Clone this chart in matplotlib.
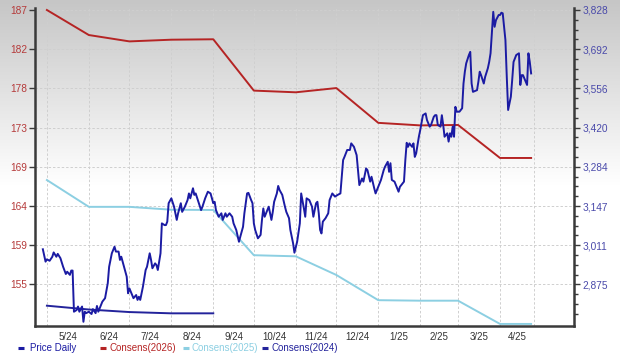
import numpy as np
import pandas as pd
import matplotlib
matplotlib.use('Agg')
import matplotlib.pyplot as plt
import matplotlib.dates as mdates
from matplotlib.ticker import FixedLocator, FuncFormatter, NullLocator
from matplotlib.lines import Line2D
from matplotlib.colors import LinearSegmentedColormap

plt.rcParams['font.family'] = ['Liberation Sans', 'DejaVu Sans']

# ---------------- data ----------------
cons_dates = ['2024-05-01', '2024-06-01', '2024-07-01', '2024-08-01', '2024-09-01',
              '2024-10-01', '2024-11-01', '2024-12-01', '2025-01-01', '2025-02-01',
              '2025-03-01', '2025-04-01', '2025-04-24']
cons_2026 = [187.0, 184.05, 183.3, 183.5, 183.55, 177.5, 177.3, 177.8,
             173.7, 173.4, 173.45, 169.56, 169.56]
cons_2025 = [166.96, 163.8, 163.8, 163.46, 163.43, 158.1, 157.97, 155.77,
             152.8, 152.74, 152.74, 150.0, 150.0]
cons_2024_dates = ['2024-05-01', '2024-06-01', '2024-07-01', '2024-08-01', '2024-09-01']
cons_2024 = [152.15, 151.7, 151.4, 151.25, 151.25]

grid_dates = ['2024-05-01', '2024-06-01', '2024-07-01', '2024-08-01', '2024-09-01',
              '2024-10-01', '2024-11-01', '2024-12-01', '2025-01-01', '2025-02-01',
              '2025-03-01', '2025-04-01', '2025-04-26']
x_labels = ['5/24', '6/24', '7/24', '8/24', '9/24', '10/24', '11/24', '12/24',
            '1/25', '2/25', '3/25', '4/25']

price_start = '2024-05-01'
price_day = [-3, -1, 0, 2, 4, 5, 7, 8, 10, 12, 14, 15, 17, 18, 19, 20, 22, 23, 24, 26,
             27, 28, 29, 31, 33, 34, 36, 37, 38, 39, 41, 43, 45, 46, 48, 50, 51, 53, 54, 55,
             57, 59, 60, 61, 63, 64, 66, 67, 68, 69, 71, 73, 74, 76, 77, 78, 80, 81, 82, 84,
             85, 87, 88, 89, 90, 92, 94, 96, 97, 99, 100, 102, 104, 105, 106, 108, 109, 110, 112, 114,
             115, 117, 119, 121, 123, 124, 125, 127, 129, 130, 132, 133, 135, 137, 138, 140, 142, 143, 145, 146,
             148, 149, 151, 152, 153, 154, 156, 158, 159, 160, 161, 163, 164, 166, 167, 168, 170, 171, 172, 174,
             176, 177, 179, 180, 182, 183, 185, 187, 188, 190, 191, 192, 194, 196, 197, 199, 200, 201, 202, 203,
             204, 206, 208, 209, 211, 213, 215, 217, 219, 220, 222, 224, 225, 227, 229, 230, 231, 233, 234, 236,
             237, 239, 240, 242, 243, 245, 247, 249, 250, 252, 253, 254, 255, 257, 258, 260, 261, 263, 264, 265,
             266, 267, 268, 270, 271, 272, 273, 275, 276, 278, 280, 281, 283, 284, 286, 287, 288, 289, 291, 292,
             293, 294, 296, 297, 298, 299, 300, 301, 302, 303, 305, 307, 308, 309, 310, 312, 313, 314, 315, 318,
             319, 320, 321, 323, 324, 326, 327, 328, 330, 331, 332, 334, 335, 336, 337, 339, 340, 341, 343, 344,
             345, 347, 349, 350, 351, 352, 354, 355, 356, 357, 358]
price_val = [2997, 2954, 2962, 2957, 2971, 2986, 2971, 2981, 2966, 2936, 2911, 2919, 2908, 2923, 2923, 2780, 2786, 2798, 2780, 2798,
             2745, 2780, 2775, 2780, 2772, 2789, 2775, 2800, 2780, 2792, 2815, 2827, 2879, 2936, 2983, 3006, 2989, 2989, 2960, 2971,
             2936, 2902, 2844, 2861, 2838, 2827, 2838, 2821, 2832, 2821, 2867, 2925, 2936, 2983, 2960, 2931, 2948, 2942, 2925, 2983,
             3087, 3081, 3081, 3093, 3157, 3174, 3145, 3099, 3122, 3157, 3127, 3145, 3168, 3191, 3174, 3209, 3186, 3191, 3162, 3133,
             3145, 3174, 3197, 3191, 3157, 3162, 3133, 3110, 3122, 3099, 3122, 3110, 3122, 3110, 3087, 3064, 3023, 3041, 3075, 3122,
             3191, 3193, 3168, 3157, 3087, 3064, 3035, 3047, 3099, 3139, 3110, 3133, 3145, 3099, 3127, 3162, 3191, 3217, 3203, 3186,
             3145, 3127, 3105, 3064, 3018, 2985, 3023, 3087, 3191, 3139, 3110, 3174, 3168, 3145, 3110, 3157, 3162, 3122, 3064, 3052,
             3093, 3105, 3122, 3168, 3191, 3180, 3186, 3191, 3307, 3318, 3342, 3342, 3365, 3353, 3324, 3272, 3220, 3243, 3232, 3278,
             3272, 3232, 3249, 3209, 3191, 3214, 3238, 3272, 3284, 3301, 3266, 3296, 3238, 3232, 3220, 3197, 3214, 3226, 3232, 3307,
             3367, 3353, 3365, 3353, 3365, 3318, 3330, 3388, 3411, 3463, 3469, 3446, 3423, 3429, 3457, 3463, 3463, 3429, 3423, 3463,
             3429, 3388, 3400, 3371, 3400, 3388, 3423, 3388, 3492, 3475, 3475, 3487, 3573, 3614, 3643, 3672, 3683, 3573, 3544, 3550,
             3579, 3614, 3602, 3573, 3596, 3626, 3648, 3678, 3822, 3770, 3793, 3811, 3811, 3819, 3817, 3724, 3596, 3481, 3527, 3585,
             3648, 3672, 3678, 3568, 3602, 3602, 3579, 3568, 3678, 3648, 3608]

# ---------------- styling ----------------
W, H = 620, 361
C_PRICE = '#1b1ba3'
C_2026 = '#b52424'
C_2025 = '#8ccfe2'
C_2024 = '#23239b'
C_LEFT_LBL = '#b53a3a'
C_RIGHT_LBL = '#4a4aaa'
C_SPINE = '#3a3a3a'
C_GRID = '#cfcfcf'

fig = plt.figure(figsize=(W / 100, H / 100), dpi=100)

# background gradient (gray at top fading to white)
bg = fig.add_axes([0, 0, 1, 1], zorder=-10)
rows = np.arange(H)
g = np.clip(rows / 185.0, 0, 1)
grad = g[:, None] * np.ones((H, 2))
cmap = LinearSegmentedColormap.from_list('bg', ['#c6c6c6', '#ffffff'])
bg.imshow(grad, aspect='auto', cmap=cmap, extent=[0, 1, 0, 1], vmin=0, vmax=1)
bg.axis('off')

left_px, right_px, top_px, bot_px = 35, 574, 8, 326
ax = fig.add_axes([left_px / W, 1 - bot_px / H, (right_px - left_px) / W, (bot_px - top_px) / H])
ax.set_facecolor('none')
ax2 = ax.twinx()

cd = pd.to_datetime(cons_dates)
ax.plot(cd, cons_2025, color=C_2025, lw=1.4, zorder=3)
ax.plot(cd, cons_2026, color=C_2026, lw=1.4, zorder=3)
ax.plot(pd.to_datetime(cons_2024_dates), cons_2024, color=C_2024, lw=1.4, zorder=4)

pdates = pd.to_datetime(price_start) + pd.to_timedelta(price_day, unit='D')
ax2.plot(pdates, price_val, color=C_PRICE, lw=1.4, zorder=3)

# x axis
x0 = pd.Timestamp('2024-05-01') - pd.Timedelta(days=8.8)
x1 = pd.Timestamp('2024-05-01') + pd.Timedelta(days=389.7)
ax.set_xlim(x0, x1)
gd = pd.to_datetime(grid_dates)
gnum = mdates.date2num(gd)
mids = (gnum[:-1] + gnum[1:]) / 2
ax.xaxis.set_major_locator(FixedLocator(mids))
ax.set_xticklabels(x_labels)
ax.tick_params(axis='x', length=0, pad=4, labelsize=7, labelcolor='#333333')
for gx in gnum:
    ax.axvline(gx, color=C_GRID, lw=0.7, ls=(0, (2.5, 2)), zorder=1)

# left axis (consensus)
l_top, l_step = 187.0, 4.62
l_ticks = [l_top - k * l_step for k in range(8)]
ax.set_ylim(l_top - 316 / (39.2 / l_step), l_top + 2 / (39.2 / l_step))
ax.yaxis.set_major_locator(FixedLocator(l_ticks))
ax.yaxis.set_major_formatter(FuncFormatter(lambda v, p: f'{v:.0f}'))
ax.tick_params(axis='y', length=4, width=1, color=C_SPINE, pad=1.5, labelsize=7.3,
               labelcolor=C_LEFT_LBL)
for t in l_ticks:
    ax.axhline(t, color=C_GRID, lw=0.7, ls=(0, (2.5, 2)), zorder=1)

# right axis (price)
r_top, r_step = 3828.45, 136.22
r_ticks = [r_top - k * r_step for k in range(8)]
r_minor = [r_top - k * r_step / 4 for k in range(0, 33) if k % 4 != 0]
ax2.set_ylim(r_top - 316 / (39.2 / r_step), r_top + 2 / (39.2 / r_step))
ax2.yaxis.set_major_locator(FixedLocator(r_ticks))
ax2.yaxis.set_minor_locator(FixedLocator(r_minor))
ax2.yaxis.set_major_formatter(FuncFormatter(lambda v, p: f'{v:,.0f}'))
ax2.tick_params(axis='y', which='major', length=4, width=1, color=C_SPINE, pad=2,
                labelsize=7.3, labelcolor=C_RIGHT_LBL)
ax2.tick_params(axis='y', which='minor', length=3, width=1, color=C_SPINE)

for a in (ax, ax2):
    a.spines['top'].set_visible(False)
    for s in ('left', 'right', 'bottom'):
        a.spines[s].set_color(C_SPINE)
        a.spines[s].set_linewidth(1.8)
ax2.spines['left'].set_visible(False)
ax2.spines['bottom'].set_visible(False)
ax.spines['right'].set_visible(False)

# legend (manual, bottom)
items = [('Price Daily', C_PRICE, 18, 30),
         ('Consens(2026)', C_2026, 100, 110),
         ('Consens(2025)', C_2025, 183, 191),
         ('Consens(2024)', C_2024, 262, 271)]
ly = 1 - 348 / H
for label, col, mx, tx in items:
    fig.add_artist(Line2D([mx / W, (mx + 6) / W], [ly, ly], transform=fig.transFigure,
                          color=col, lw=2.2, solid_capstyle='butt'))
    fig.text(tx / W, ly, label, color=col, fontsize=7, va='center', ha='left')

fig.savefig('out.png', dpi=100)
